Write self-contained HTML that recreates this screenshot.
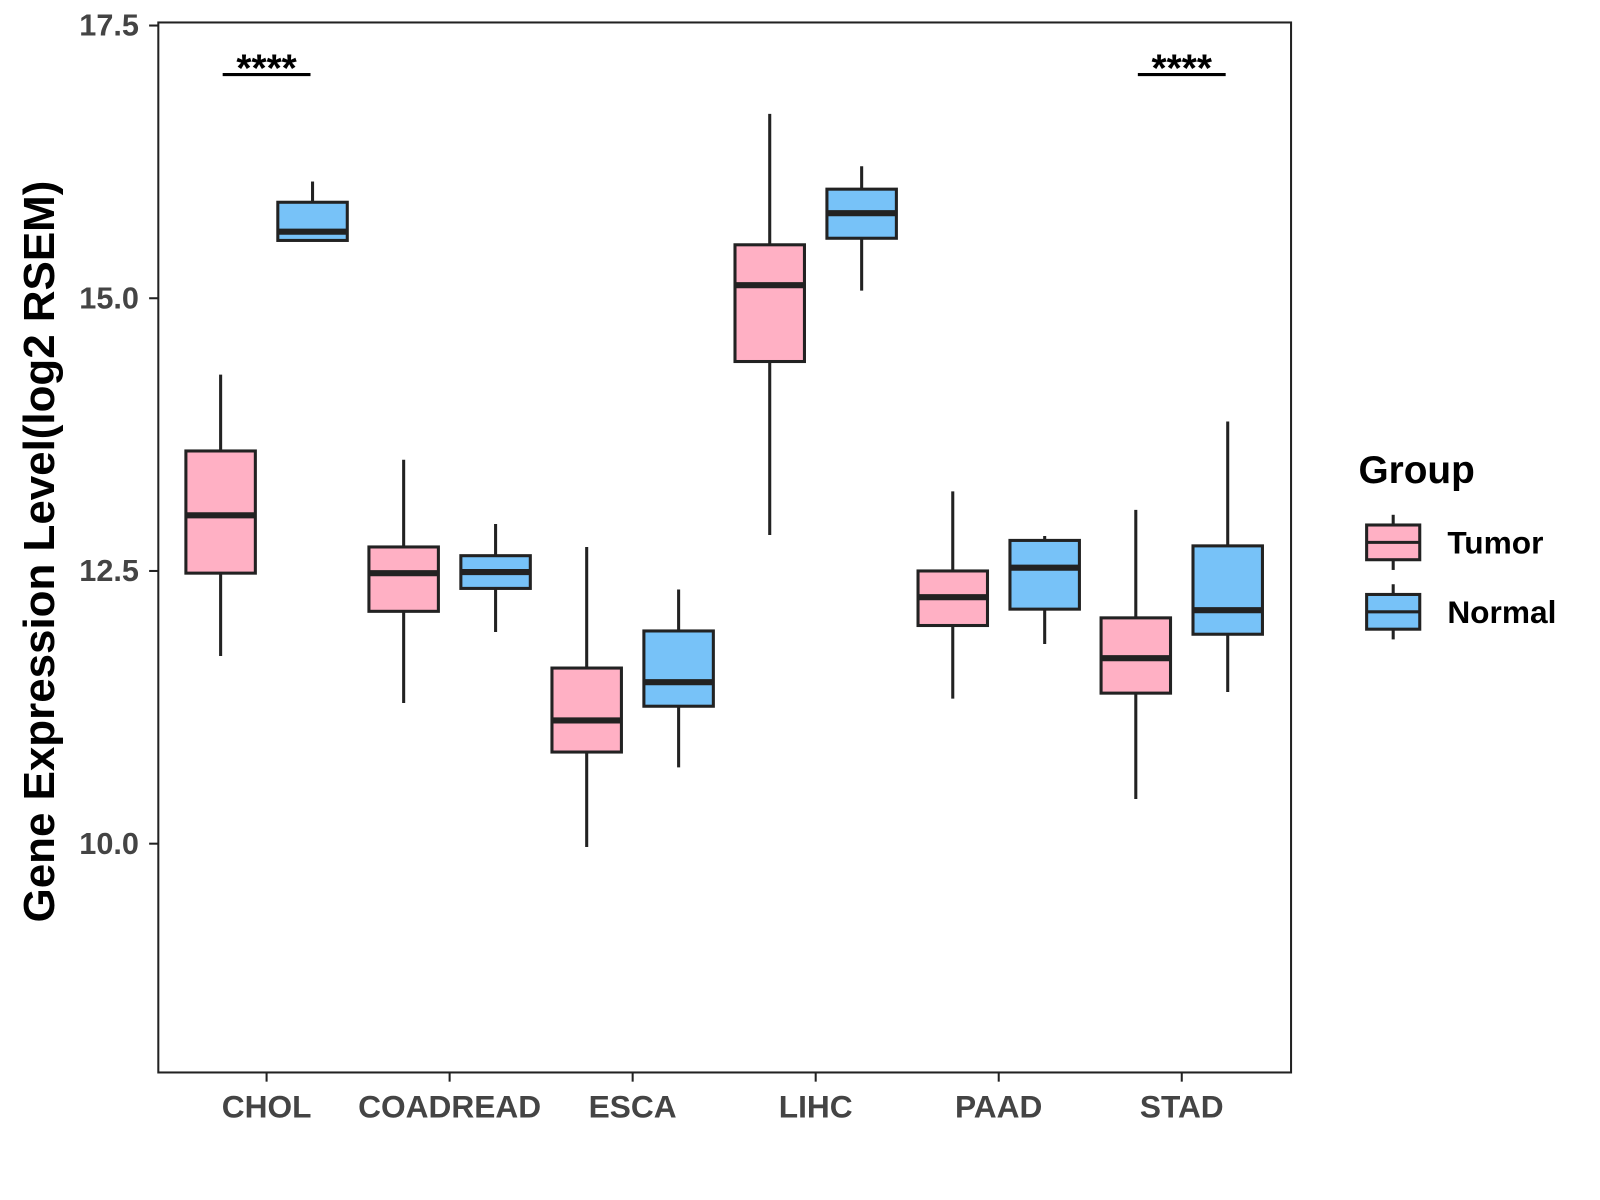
<!DOCTYPE html>
<html><head><meta charset="utf-8"><style>
body{margin:0;background:#fff;}
svg{display:block;font-family:"Liberation Sans",Arial,sans-serif;}
</style></head><body>
<svg id="chart" width="1600" height="1200" viewBox="0 0 1600 1200" xmlns="http://www.w3.org/2000/svg">
<rect x="0" y="0" width="1600" height="1200" fill="#fff"/>
<g transform="scale(1.0214)">
<rect x="155" y="22" width="1109" height="1028" fill="none" stroke="#222" stroke-width="2"/>
<g id="marks"></g>
<text transform="translate(53,540) rotate(-90)" text-anchor="middle" font-size="43" font-weight="bold" fill="#000">Gene Expression Level(log2 RSEM)</text>
<g>
<text x="1330" y="473" font-size="38" font-weight="bold">Group</text>
<g>
<line x1="1364" y1="504" x2="1364" y2="558" stroke="#222" stroke-width="3"/>
<rect x="1338" y="514" width="52" height="34" fill="#FFB0C4" stroke="#222" stroke-width="3"/>
<line x1="1338" y1="531" x2="1390" y2="531" stroke="#222" stroke-width="3"/>
<text x="1417" y="542" font-size="31" font-weight="bold">Tumor</text></g>
<g>
<line x1="1364" y1="572" x2="1364" y2="626" stroke="#222" stroke-width="3"/>
<rect x="1338" y="582" width="52" height="34" fill="#77C2F8" stroke="#222" stroke-width="3"/>
<line x1="1338" y1="599" x2="1390" y2="599" stroke="#222" stroke-width="3"/>
<text x="1417" y="610" font-size="31" font-weight="bold">Normal</text></g>
</g>
</g>
</svg>
<script>
const categories=["CHOL","COADREAD","ESCA","LIHC","PAAD","STAD"];
const tumorStats=[[11.72,12.48,13.01,13.60,14.30],[11.29,12.13,12.48,12.72,13.52],[9.97,10.84,11.13,11.61,12.72],[12.83,14.42,15.12,15.49,16.69],[11.33,12.00,12.26,12.50,13.23],[10.41,11.38,11.70,12.07,13.06]];
const normalStats=[[15.53,15.53,15.61,15.88,16.07],[11.94,12.34,12.49,12.64,12.93],[10.70,11.26,11.48,11.95,12.33],[15.07,15.55,15.78,16.00,16.21],[11.83,12.15,12.53,12.78,12.82],[11.39,11.92,12.14,12.73,13.87]];
const yTicks=[10.0,12.5,15.0,17.5];
const sigLabels=["****","","","","","****"];
const NS="http://www.w3.org/2000/svg";
const g=document.getElementById("marks");
const y=v=>25+(17.5-v)*106.8;
const x=i=>261+i*179.2;
function el(t,a,p){const e=document.createElementNS(NS,t);for(const k in a)e.setAttribute(k,a[k]);(p||g).appendChild(e);return e;}
yTicks.forEach(t=>{
 const l=el("line",{x1:146,x2:155,y1:y(t),y2:y(t),stroke:"#222","stroke-width":2});
 
 
 const tx=el("text",{x:136,y:y(t)+10,"text-anchor":"end","font-size":30,"font-weight":"bold",fill:"#444"});
 tx.textContent=t.toFixed(1);
 
 
});
categories.forEach((c,i)=>{
 const l=el("line",{x1:x(i),x2:x(i),y1:1050,y2:1059,stroke:"#222","stroke-width":2});
 
 
 const tx=el("text",{x:x(i),y:1094,"text-anchor":"middle","font-size":31,"font-weight":"bold",fill:"#444"});
 tx.textContent=c;
 
 
 [[tumorStats[i],-45,"#FFB0C4","tumor"],[normalStats[i],45,"#77C2F8","normal"]].forEach(([s,off,col,nm])=>{
  const cx=x(i)+off;
  const bg=el("g",{});
  
  
  el("line",{x1:cx,x2:cx,y1:y(s[0]),y2:y(s[4]),stroke:"#222","stroke-width":3},bg);
  el("rect",{x:cx-34,y:y(s[3]),width:68,height:y(s[1])-y(s[3]),fill:col,stroke:"#222","stroke-width":3},bg);
  el("line",{x1:cx-34,x2:cx+34,y1:y(s[2]),y2:y(s[2]),stroke:"#222","stroke-width":6},bg);
 });
 if(sigLabels[i]){
  const sl=el("line",{x1:x(i)-43,x2:x(i)+43,y1:73,y2:73,stroke:"#000","stroke-width":3});
  
  
  const st=el("text",{x:x(i),y:80,"text-anchor":"middle","font-size":38,"font-weight":"bold",fill:"#000"});
  st.textContent=sigLabels[i];
  
  
 }
});
</script>
</body></html>
